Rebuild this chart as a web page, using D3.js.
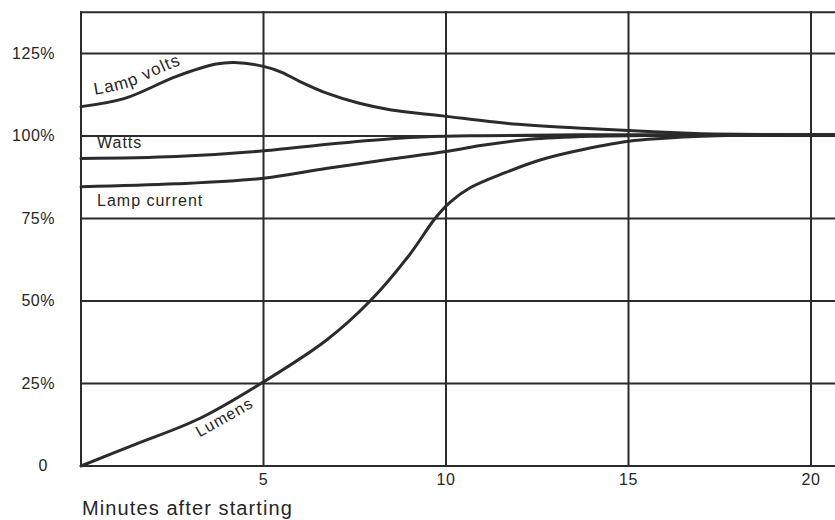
<!DOCTYPE html>
<html>
<head>
<meta charset="utf-8">
<script src="https://cdn.jsdelivr.net/npm/d3@7"></script>
<style>
  html, body { margin: 0; padding: 0; background: #ffffff; }
  svg { display: block; }
  text { font-family: "Liberation Sans", Arial, Helvetica, sans-serif; fill: #262626; }
</style>
</head>
<body>
<svg id="chart" width="835" height="520"></svg>
<script>
// ---- data ----
const xTicks = [5, 10, 15, 20];
const xTickLabels = ["5", "10", "15", "20"];
const yTicks = [0, 25, 50, 75, 100, 125];
const yTickLabels = ["0", "25%", "50%", "75%", "100%", "125%"];
const xAxisTitle = "Minutes after starting";

const voltsT = [0, 1.2, 2.6, 3.7, 4.2, 5, 5.5, 6, 6.75, 7.6, 8.5, 9.9, 11.7, 13.5, 15, 16, 17, 18, 20, 20.7];
const voltsV = [108.9, 111.4, 118, 121.8, 122.3, 121.1, 119.3, 116.5, 112.9, 110.0, 107.9, 106.1, 103.8, 102.5, 101.7, 101.1, 100.7, 100.5, 100.4, 100.4];

const wattsT = [0, 2.6, 5, 6.75, 8.5, 9.5, 11, 13, 15, 17, 20, 20.7];
const wattsV = [93.2, 93.8, 95.5, 97.5, 99.2, 99.8, 100.1, 100.3, 100.4, 100.4, 100.4, 100.4];

const currentT = [0, 2.6, 5, 6.75, 8.5, 10, 11, 12.3, 14, 16, 18, 20, 20.7];
const currentV = [84.6, 85.5, 87.2, 90.2, 93, 95.3, 97.2, 99, 99.9, 100.2, 100.4, 100.4, 100.4];

const lumensT = [0, 1.4, 3.25, 5, 6.73, 7.92, 9, 9.7, 10.1, 10.66, 11.6, 12.6, 13.5, 15, 16, 17, 18, 20, 20.7];
const lumensV = [0, 6.2, 14.4, 25.5, 38.2, 50, 64, 75, 79.8, 84.3, 88.8, 92.8, 95.3, 98.4, 99.3, 99.9, 100.2, 100.4, 100.4];

const seriesNames = ["Lamp volts", "Watts", "Lamp current", "Lumens"];

// ---- layout ----
const W = 835, H = 520;
const svg = d3.select("#chart");
const ink = "#2b2b2b";

const x = d3.scaleLinear().domain([0, 20]).range([81, 811]);
const y = d3.scaleLinear().domain([0, 125]).range([466, 53.5]);
const topValue = 137.5;

const g = svg.append("g");

// horizontal grid (incl. top frame)
g.selectAll("line.h")
  .data(yTicks.concat([topValue]))
  .join("line")
  .attr("x1", x(0) - 1).attr("x2", W)
  .attr("y1", d => y(d)).attr("y2", d => y(d))
  .attr("stroke", ink).attr("stroke-width", 2);

// vertical grid
g.selectAll("line.v")
  .data([0].concat(xTicks))
  .join("line")
  .attr("x1", d => x(d)).attr("x2", d => x(d))
  .attr("y1", y(topValue) - 1).attr("y2", y(0) + 1)
  .attr("stroke", ink).attr("stroke-width", 2);

// y tick labels
g.selectAll("text.yt")
  .data(yTicks)
  .join("text")
  .attr("x", d => d === 0 ? 48 : 55)
  .attr("y", d => y(d) + 5)
  .attr("text-anchor", "end")
  .attr("font-size", 16)
  .attr("letter-spacing", 0.5)
  .text((d, i) => yTickLabels[i]);

// x tick labels
g.selectAll("text.xt")
  .data(xTicks)
  .join("text")
  .attr("x", d => x(d))
  .attr("y", 485)
  .attr("text-anchor", "middle")
  .attr("font-size", 16)
  .attr("letter-spacing", 0.5)
  .text((d, i) => xTickLabels[i]);

// x axis title
g.append("text")
  .attr("x", 82).attr("y", 515)
  .attr("font-size", 20)
  .attr("letter-spacing", 1.1)
  .text(xAxisTitle);

// ---- curves ----
const zip = (T, V) => T.map((t, i) => ({ t, v: V[i] }));
const series = [zip(voltsT, voltsV), zip(wattsT, wattsV), zip(currentT, currentV), zip(lumensT, lumensV)];

const curve = d3.curveCatmullRom.alpha(0.5);
const line = d3.line().x(d => x(d.t)).y(d => y(d.v)).curve(curve);

g.selectAll("path.curve")
  .data(series)
  .join("path")
  .attr("d", line)
  .attr("fill", "none")
  .attr("stroke", ink)
  .attr("stroke-width", 3)
  .attr("stroke-linejoin", "round")
  .attr("stroke-linecap", "round");

// ---- labels ----
const defs = svg.append("defs");
const offsetLine = dy => d3.line().x(d => x(d.t)).y(d => y(d.v) + dy).curve(curve);

defs.append("path").attr("id", "voltsLabelPath").attr("d", offsetLine(-10)(series[0]));
defs.append("path").attr("id", "lumensLabelPath").attr("d", offsetLine(19)(series[3].filter(d => d.t >= 3)));

g.append("text")
  .attr("font-size", 17)
  .attr("letter-spacing", 1)
  .append("textPath")
  .attr("href", "#voltsLabelPath")
  .attr("startOffset", 14)
  .text(seriesNames[0]);

g.append("text")
  .attr("font-size", 16)
  .attr("letter-spacing", 1)
  .append("textPath")
  .attr("href", "#lumensLabelPath")
  .attr("startOffset", 0)
  .text(seriesNames[3]);

g.append("text")
  .attr("x", 97).attr("y", 148)
  .attr("font-size", 16)
  .attr("letter-spacing", 1)
  .text(seriesNames[1]);

g.append("text")
  .attr("x", 97).attr("y", 206)
  .attr("font-size", 16)
  .attr("letter-spacing", 1)
  .text(seriesNames[2]);
</script>
</body>
</html>
